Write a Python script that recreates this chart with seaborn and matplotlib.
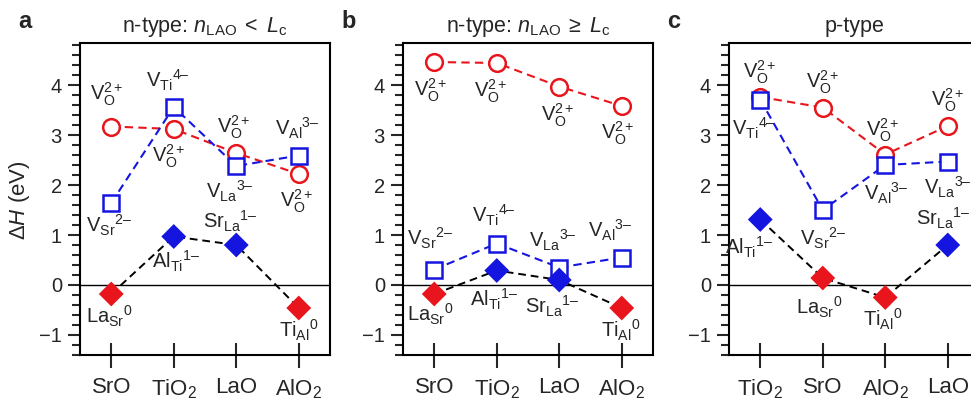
import matplotlib
matplotlib.use("Agg")
import matplotlib.pyplot as plt
import seaborn as sns
from matplotlib.ticker import MultipleLocator, FixedLocator

sns.set_style("ticks")
plt.rcParams.update({
    'font.family': ['Liberation Sans', 'DejaVu Sans'],
    'mathtext.fontset': 'custom',
    'mathtext.rm': 'Liberation Sans',
    'mathtext.it': 'Liberation Sans:italic',
    'mathtext.bf': 'Liberation Sans:bold',
    'mathtext.sf': 'Liberation Sans',
})

RED = '#e8161c'
BLUE = '#1515e0'
D = "\u2013"  # dash used for negative charge

VO = r"V$_{\rm O}^{2+}$"

# ---------------- data ----------------
titles = [r"n-type: $n_{\rm LAO}\;<\;L_{\rm c}$", r"n-type: $n_{\rm LAO}\;\geq\;L_{\rm c}$", "p-type"]
letters = ["a", "b", "c"]

cats_a = ["SrO", "TiO$_2$", "LaO", "AlO$_2$"]
vo_a = [3.17, 3.12, 2.64, 2.22]
vc_a = [1.64, 3.56, 2.38, 2.59]
sub_a = [-0.18, 0.97, 0.80, -0.46]
chg_a = ["0", "1-", "1-", "0"]
vc_lab_a = ["V$_{\\rm Sr}{}^{2" + D + "}$", "V$_{\\rm Ti}{}^{4" + D + "}$",
            "V$_{\\rm La}{}^{3" + D + "}$", "V$_{\\rm Al}{}^{3" + D + "}$"]
sub_lab_a = [r"La$_{\rm Sr}{}^{0}$", "Al$_{\\rm Ti}{}^{1" + D + "}$",
             "Sr$_{\\rm La}{}^{1" + D + "}$", r"Ti$_{\rm Al}{}^{0}$"]

cats_b = ["SrO", "TiO$_2$", "LaO", "AlO$_2$"]
vo_b = [4.46, 4.44, 3.97, 3.58]
vc_b = [0.31, 0.83, 0.35, 0.55]
sub_b = [-0.18, 0.29, 0.10, -0.46]
chg_b = ["0", "1-", "1-", "0"]
vc_lab_b = vc_lab_a
sub_lab_b = sub_lab_a

cats_c = ["TiO$_2$", "SrO", "AlO$_2$", "LaO"]
vo_c = [3.76, 3.55, 2.61, 3.18]
vc_c = [3.71, 1.50, 2.40, 2.47]
sub_c = [1.31, 0.14, -0.25, 0.80]
chg_c = ["1-", "0", "0", "1-"]
vc_lab_c = ["V$_{\\rm Ti}{}^{4" + D + "}$", "V$_{\\rm Sr}{}^{2" + D + "}$",
            "V$_{\\rm Al}{}^{3" + D + "}$", "V$_{\\rm La}{}^{3" + D + "}$"]
sub_lab_c = ["Al$_{\\rm Ti}{}^{1" + D + "}$", r"La$_{\rm Sr}{}^{0}$",
             r"Ti$_{\rm Al}{}^{0}$", "Sr$_{\\rm La}{}^{1" + D + "}$"]

# label offsets (pixels, y up)
off_vo = [[(-5, 32), (-5, -27), (-3, 26), (-2, -27)],
          [(-4, -28), (-6, -28), (-2, -29), (-4, -27)],
          [(-1, 25), (0, 25), (-3, 24), (0, 26)]]
off_vc = [[(-2, -22), (-6, 27), (-6, -25), (-1, 27)],
          [(-4, 31), (-3, 28), (-6, 27), (-11, 27)],
          [(-6, -29), (0, -28), (1, -28), (0, -26)]]
off_sub = [[(-2, -22), (2, -25), (-6, 24), (0, -22)],
           [(-4, -20), (-3, -29), (-7, -26), (-1, -22)],
           [(-11, -28), (-3, -29), (-3, -22), (-5, 27)]]

panels = [
    (cats_a, vo_a, vc_a, sub_a, chg_a, vc_lab_a, sub_lab_a),
    (cats_b, vo_b, vc_b, sub_b, chg_b, vc_lab_b, sub_lab_b),
    (cats_c, vo_c, vc_c, sub_c, chg_c, vc_lab_c, sub_lab_c),
]

# ---------------- figure ----------------
W, H = 971, 399
fig = plt.figure(figsize=(W / 100, H / 100), dpi=100)
lefts = [80, 403, 729]
ax_w, top, bot = 250, 43, 355
FS = 14.5
PX = 0.72  # px -> pt

for i, (cats, vo, vc, sub, chg, vclab, sublab) in enumerate(panels):
    ax = fig.add_axes([lefts[i] / W, (H - bot) / H, ax_w / W, (bot - top) / H])
    pos = list(range(len(cats)))
    ax.axhline(0, color='k', lw=1.0, zorder=1)
    # substitutional defects
    sns.lineplot(x=pos, y=sub, ax=ax, color='k', linestyle=(0, (4, 2.5)), lw=1.4, zorder=2)
    sns.scatterplot(x=pos, y=sub, hue=chg, palette={"0": RED, "1-": BLUE}, marker='D',
                    s=160, edgecolor='none', legend=False, ax=ax, zorder=4)
    # oxygen vacancies
    sns.lineplot(x=pos, y=vo, ax=ax, color=RED, linestyle=(0, (4, 2.5)), lw=1.5,
                 marker='o', markersize=12, markerfacecolor='white', markeredgecolor=RED,
                 markeredgewidth=1.8, zorder=3)
    # cation vacancies
    sns.lineplot(x=pos, y=vc, ax=ax, color=BLUE, linestyle=(0, (4, 2.5)), lw=1.5,
                 marker='s', markersize=11, markerfacecolor='white', markeredgecolor=BLUE,
                 markeredgewidth=1.8, zorder=3)

    for j in pos:
        for (val, lab, off) in ((vo[j], VO, off_vo[i][j]), (vc[j], vclab[j], off_vc[i][j]),
                                (sub[j], sublab[j], off_sub[i][j])):
            ax.annotate(lab, xy=(j, val), xytext=(off[0] * PX, off[1] * PX),
                        textcoords='offset points', ha='center', va='center', fontsize=FS)

    ax.set_xlim(-0.5, 3.5)
    ax.set_ylim(-1.4, 4.84)
    ax.set_xticks(pos)
    ax.set_xticklabels(cats, fontsize=16)
    ax.yaxis.set_major_locator(FixedLocator([-1, 0, 1, 2, 3, 4]))
    ax.yaxis.set_minor_locator(MultipleLocator(0.2))
    ax.tick_params(axis='y', which='major', direction='out', length=9, width=1.5,
                   labelsize=FS, pad=4, right=False)
    ax.tick_params(axis='y', which='minor', direction='out', length=5.5, width=1.5, right=False)
    ax.tick_params(axis='x', which='major', direction='inout', length=18, width=1.5,
                   labelsize=16, pad=7, top=False)
    ax.tick_params(axis='x', which='minor', bottom=False, top=False)
    for sp in ax.spines.values():
        sp.set_linewidth(1.5)
        sp.set_color('k')
    ax.set_xlabel("")
    ax.set_ylabel("")
    ax.set_title(titles[i], fontsize=15.5, pad=8)
    ax.grid(False)
    fig.text((lefts[i] - 62) / W, 1 - 22 / H, letters[i], fontsize=17, fontweight='bold',
             ha='left', va='center')

fig.text(20 / W, 1 - 200 / H, r"$\Delta H$ (eV)", rotation=90, fontsize=16,
         ha='center', va='center')

fig.savefig("out.png", dpi=100)
